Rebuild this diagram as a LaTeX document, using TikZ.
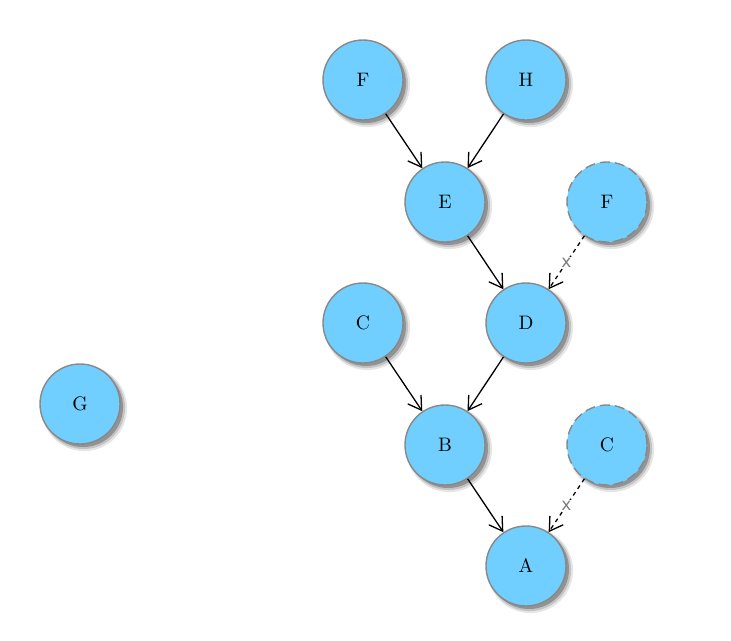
\documentclass[tikz,border=0pt]{standalone}
\usepackage{graphicx}
\usepackage{fontspec}
\newfontfamily\labfont{DejaVu Sans}
\usetikzlibrary{arrows.meta,shadows}
\newcommand{\nl}[1]{\scalebox{1.95}{#1}}
\newcommand{\xl}[1]{\scalebox{1.7}{\labfont #1}}
\begin{document}
\begin{tikzpicture}[x=1pt,y=-1pt,
  softshadow/.style={
    drop shadow={shadow xshift=4pt,shadow yshift=-4pt,opacity=0.10,shadow scale=1.07,fill=black},
    drop shadow={shadow xshift=3.5pt,shadow yshift=-3.5pt,opacity=0.15,shadow scale=1.035,fill=black},
    drop shadow={shadow xshift=3pt,shadow yshift=-3pt,opacity=0.25,shadow scale=1.0,fill=black}},
  vnode/.style={circle,minimum size=80pt,inner sep=0pt,fill={rgb,255:red,112;green,207;blue,255},
    draw={rgb,255:red,136;green,136;blue,136},line width=1.4pt,softshadow},
  ghost/.style={vnode,dash pattern=on 10pt off 5pt},
  edge/.style={line width=1.3pt,-{Straight Barb[length=13pt,width=16pt,line width=1.3pt]}},
  xedge/.style={edge,dash pattern=on 4pt off 4pt},
  xlab/.style={text={rgb,255:red,125;green,125;blue,125},fill=white,inner sep=0.5pt}]
\useasboundingbox (0,0) rectangle (731,640);
\node[vnode] (F) at (363,80) {\nl{F}};
\node[vnode] (H) at (526,80) {\nl{H}};
\node[vnode] (E) at (445,202) {\nl{E}};
\node[ghost] (F2) at (607,202) {\nl{F}};
\node[vnode] (D) at (526,323) {\nl{D}};
\node[vnode] (C) at (363,323) {\nl{C}};
\node[vnode] (G) at (80,404) {\nl{G}};
\node[vnode] (B) at (445,445) {\nl{B}};
\node[ghost] (C2) at (607,445) {\nl{C}};
\node[vnode] (A) at (526,566) {\nl{A}};
\draw[edge] (F) -- (E);
\draw[edge] (H) -- (E);
\draw[edge] (E) -- (D);
\draw[xedge] (F2) -- node[xlab] (x1) {\xl{x}} (D);
\draw[edge] (C) -- (B);
\draw[edge] (D) -- (B);
\draw[edge] (B) -- (A);
\draw[xedge] (C2) -- node[xlab] (x2) {\xl{x}} (A);
\end{tikzpicture}
\end{document}
